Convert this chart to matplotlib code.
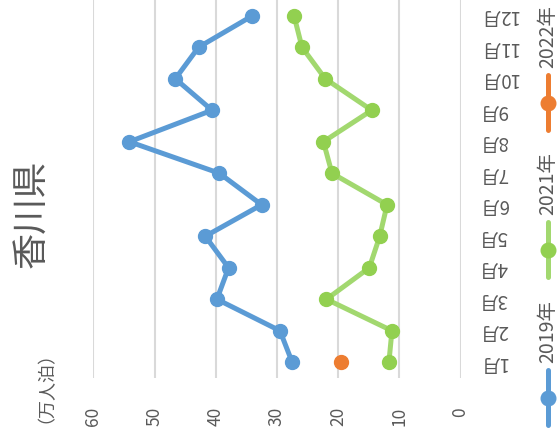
import matplotlib
matplotlib.use("Agg")
import matplotlib.pyplot as plt
from matplotlib.lines import Line2D

plt.rcParams['font.family'] = ['Noto Sans CJK JP', 'DejaVu Sans']

# ===========================
# データ
# ===========================
months = ["1月", "2月", "3月", "4月", "5月", "6月",
          "7月", "8月", "9月", "10月", "11月", "12月"]
series_names = ["2019年", "2021年", "2022年"]
v2019 = [27.5, 29.5, 39.8, 37.9, 41.7, 32.5, 39.4, 54.1, 40.6, 46.6, 42.8, 34.0]
v2021 = [11.7, 11.2, 21.9, 14.9, 13.2, 12.0, 21.0, 22.4, 14.5, 22.1, 25.9, 27.2]
v2022 = [19.5]
value_ticks = [0, 10, 20, 30, 40, 50, 60]
title = "香川県"
unit = "（万人泊）"

line_colors = ["#5B9BD5", "#A2D86F", "#ED7D31"]
marker_colors = ["#5B9BD5", "#92D050", "#ED7D31"]
text_color = "#595959"

W, H = 559, 441
fig = plt.figure(figsize=(W / 100, H / 100), dpi=100)


def fx(px):
    return px / W


def fy(py):
    return 1 - py / H


ax = fig.add_axes([fx(93.3), fy(378), fx(460.5) - fx(93.3), fy(0) - fy(378)])

pos = list(range(1, len(months) + 1))
all_vals = [v2019, v2021, v2022]
for i, vals in enumerate(all_vals):
    ax.plot(vals, pos[:len(vals)], color=line_colors[i], lw=3.6,
            marker='o', ms=10, mfc=marker_colors[i], mec=marker_colors[i],
            solid_capstyle='round', zorder=3)

ax.set_xlim(60, 0)
ax.set_ylim(0.5, 12.5)
ax.set_xticks(value_ticks)
ax.set_xticklabels([str(v) for v in value_ticks], rotation=90,
                   fontsize=12.5, color=text_color)
ax.tick_params(axis='x', length=0, pad=21)
ax.set_yticks(pos)
ax.set_yticklabels(months, rotation=180, fontsize=13.5, color=text_color,
                   va='center')
ax.yaxis.tick_right()
ax.tick_params(axis='y', length=0, pad=13)
ax.grid(axis='x', color='#D9D9D9', lw=1.5)
ax.set_axisbelow(True)
for s in ax.spines.values():
    s.set_visible(False)

# タイトル・単位
fig.text(fx(32), fy(214), title, rotation=90, rotation_mode='anchor',
         ha='center', va='center', fontsize=26, color=text_color)
fig.text(fx(37), fy(378), unit, rotation=90, rotation_mode='anchor',
         ha='center', va='center', fontsize=13, color=text_color)

# 凡例（回転）
legend_tops = [370, 222, 75]
for i, name in enumerate(series_names):
    top = legend_tops[i]
    fig.add_artist(Line2D([fx(548), fx(548)], [fy(top), fy(top + 55)],
                          transform=fig.transFigure, color=line_colors[i],
                          lw=3.6, solid_capstyle='round'))
    fig.add_artist(Line2D([fx(548)], [fy(top + 27.5)],
                          transform=fig.transFigure, marker='o', ms=10.5,
                          color=marker_colors[i], lw=0))
    fig.text(fx(548), fy(top - 7), name, rotation=90, rotation_mode='anchor',
             ha='left', va='center', fontsize=14, color=text_color)

fig.savefig("out.png", dpi=100)
